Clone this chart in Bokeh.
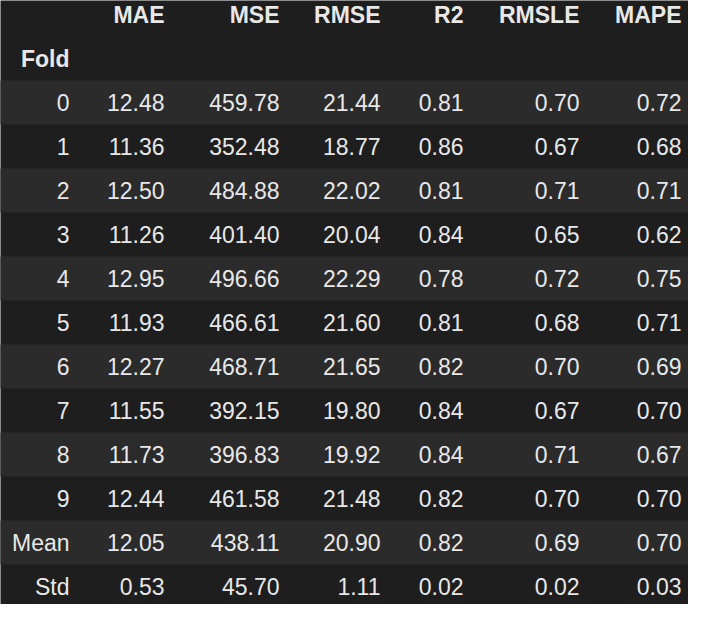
from bokeh.plotting import figure
from bokeh.models import ColumnDataSource, Range1d
from bokeh.core.properties import value
from bokeh.embed import file_html
from bokeh.resources import INLINE

columns = ["MAE", "MSE", "RMSE", "R2", "RMSLE", "MAPE"]
row_labels = ["0", "1", "2", "3", "4", "5", "6", "7", "8", "9", "Mean", "Std"]
mae = [12.48, 11.36, 12.50, 11.26, 12.95, 11.93, 12.27, 11.55, 11.73, 12.44, 12.05, 0.53]
mse = [459.78, 352.48, 484.88, 401.40, 496.66, 466.61, 468.71, 392.15, 396.83, 461.58, 438.11, 45.70]
rmse = [21.44, 18.77, 22.02, 20.04, 22.29, 21.60, 21.65, 19.80, 19.92, 21.48, 20.90, 1.11]
r2 = [0.81, 0.86, 0.81, 0.84, 0.78, 0.81, 0.82, 0.84, 0.84, 0.82, 0.82, 0.02]
rmsle = [0.70, 0.67, 0.71, 0.65, 0.72, 0.68, 0.70, 0.67, 0.71, 0.70, 0.69, 0.02]
mape = [0.72, 0.68, 0.71, 0.62, 0.75, 0.71, 0.69, 0.70, 0.67, 0.70, 0.70, 0.03]
series = [mae, mse, rmse, r2, rmsle, mape]

# layout in reference pixels
row_h = 44
col_right = [172, 287, 388, 471, 587, 689]
index_right = 77
first_row = 2  # header + "Fold" rows before data

BG = "#1e1e1e"
STRIPE = "#2b2b2b"
FG = "#e8e8e8"
FONT = value("Helvetica")
SIZE = "23px"

p = figure(width=688, height=604, x_range=Range1d(8, 696), y_range=Range1d(612, 8),
           output_backend="svg", toolbar_location=None, tools="", min_border=0)
p.axis.visible = False
p.grid.grid_line_color = None
p.outline_line_color = None
p.background_fill_color = BG
p.border_fill_color = BG

# stripes on even data rows
ys = [(first_row + i + 0.5) * row_h for i in range(len(row_labels))]
stripe_y = [y for i, y in enumerate(ys) if i % 2 == 0]
p.rect(x=352, y=stripe_y, width=704, height=row_h, fill_color=STRIPE, line_color=None)

# header
p.text(x=col_right, y=[0.5 * row_h] * len(columns), text=columns, text_align="right",
       text_baseline="middle", text_color=FG, text_font=FONT, text_font_size=SIZE,
       text_font_style="bold")
p.text(x=[index_right], y=[1.5 * row_h], text=["Fold"], text_align="right",
       text_baseline="middle", text_color=FG, text_font=FONT, text_font_size=SIZE,
       text_font_style="bold")

# index labels
p.text(x=[index_right] * len(row_labels), y=ys, text=row_labels, text_align="right",
       text_baseline="middle", text_color=FG, text_font=FONT, text_font_size=SIZE)

# cells
for xr, vals in zip(col_right, series):
    src = ColumnDataSource(dict(x=[xr] * len(vals), y=ys, t=[f"{v:.2f}" for v in vals]))
    p.text(x="x", y="y", text="t", source=src, text_align="right", text_baseline="middle",
           text_color=FG, text_font=FONT, text_font_size=SIZE)

open("out.html", "w").write(file_html(p, INLINE))
